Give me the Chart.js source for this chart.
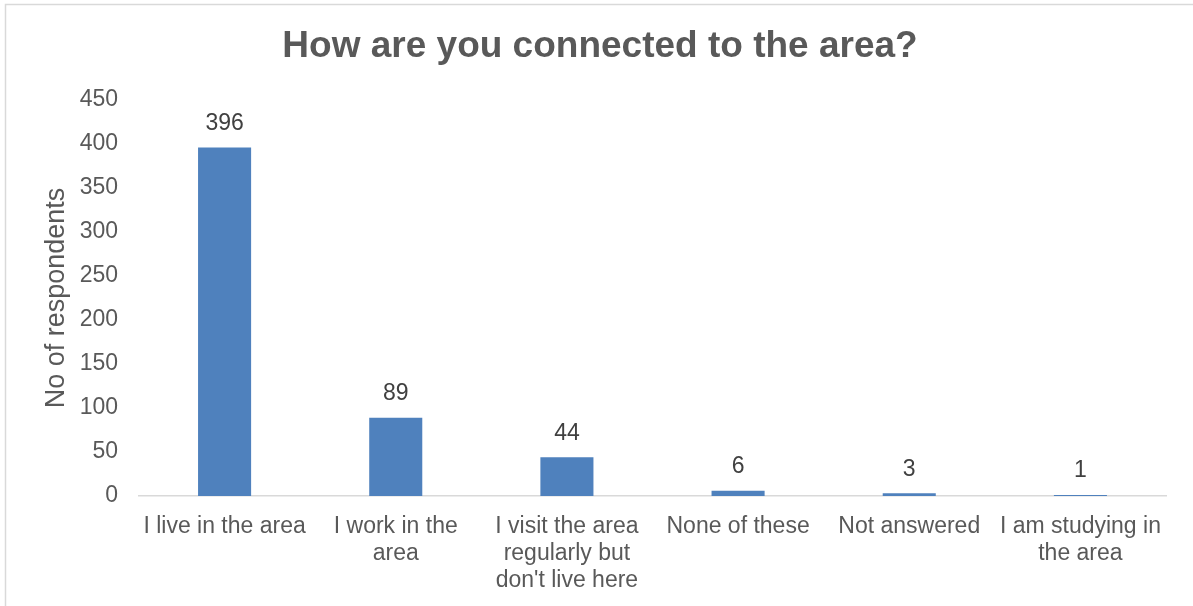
<!DOCTYPE html>
<html>
<head>
<meta charset="utf-8">
<title>How are you connected to the area?</title>
<script src="https://cdn.jsdelivr.net/npm/chart.js@4.4.1/dist/chart.umd.min.js"></script>
<style>
  html, body { margin: 0; padding: 0; background: #fff; }
  #wrap { width: 1193px; height: 606px; position: relative; }
</style>
</head>
<body>
<div id="wrap"><canvas id="myChart" width="1193" height="606"></canvas></div>
<script>
// Respostas
const categories = [
    "I live in the area",
    ["I work in the", "area"],
    ["I visit the area", "regularly but", "don't live here"],
    "None of these",
    "Not answered",
    ["I am studying in", "the area"]
];
const respondents = [396, 89, 44, 6, 3, 1];
const yTicks = [0, 50, 100, 150, 200, 250, 300, 350, 400, 450];
const chartTitle = 'How are you connected to the area?';

const TEXT = '#595959';
const FONT = "'Liberation Sans', Arial, sans-serif";

// Título, centrado no gráfico inteiro
const titleText = {
    id: 'titleText',
    afterDraw(chart) {
        const ctx = chart.ctx;
        ctx.save();
        ctx.font = 'bold 37px ' + FONT;
        ctx.fillStyle = TEXT;
        ctx.textAlign = 'center';
        ctx.textBaseline = 'middle';
        ctx.fillText(chartTitle, 600, 47);
        ctx.restore();
    }
};

// Rótulos de valor acima das barras
const valueLabels = {
    id: 'valueLabels',
    afterDatasetsDraw(chart) {
        const ctx = chart.ctx;
        const meta = chart.getDatasetMeta(0);
        ctx.save();
        ctx.font = '23px ' + FONT;
        ctx.fillStyle = '#404040';
        ctx.textAlign = 'center';
        ctx.textBaseline = 'middle';
        meta.data.forEach((bar, i) => {
            ctx.fillText(String(respondents[i]), bar.x, bar.y - 24);
        });
        ctx.restore();
    }
};

// Moldura do gráfico
const frame = {
    id: 'frame',
    afterDraw(chart) {
        const ctx = chart.ctx;
        ctx.save();
        ctx.strokeStyle = '#D9D9D9';
        ctx.lineWidth = 1.5;
        ctx.strokeRect(5.5, 4.5, 1220, 640);
        ctx.restore();
    }
};

const ctx = document.getElementById('myChart').getContext('2d');
new Chart(ctx, {
    type: 'bar',
    data: {
        labels: categories,
        datasets: [{
            data: respondents,
            backgroundColor: '#4F81BD',
            borderWidth: 0,
            barPercentage: 0.31,
            categoryPercentage: 1
        }]
    },
    options: {
        responsive: false,
        animation: false,
        layout: { padding: { left: 0, right: 27, top: 100, bottom: 0 } },
        plugins: {
            legend: { display: false },
            tooltip: { enabled: false },
            title: { display: false }
        },
        scales: {
            x: {
                grid: { display: false },
                border: { display: true, color: '#D9D9D9', width: 1.5 },
                ticks: {
                    color: TEXT,
                    font: { family: FONT, size: 23, lineHeight: 1.17 },
                    maxRotation: 0,
                    autoSkip: false,
                    padding: 9
                },
                afterFit(scale) { scale.height = 110; }
            },
            y: {
                min: 0,
                max: 450,
                afterBuildTicks(scale) { scale.ticks = yTicks.map(v => ({ value: v })); },
                grid: { display: false },
                border: { display: false },
                ticks: {
                    color: TEXT,
                    font: { family: FONT, size: 23 },
                    padding: 13
                },
                title: {
                    display: true,
                    text: 'No of respondents',
                    color: TEXT,
                    font: { family: FONT, size: 27, lineHeight: 1.2 },
                    padding: { top: 40, bottom: 0 }
                },
                afterFit(scale) { scale.width = 139; }
            }
        }
    },
    plugins: [titleText, valueLabels, frame]
});
</script>
</body>
</html>
